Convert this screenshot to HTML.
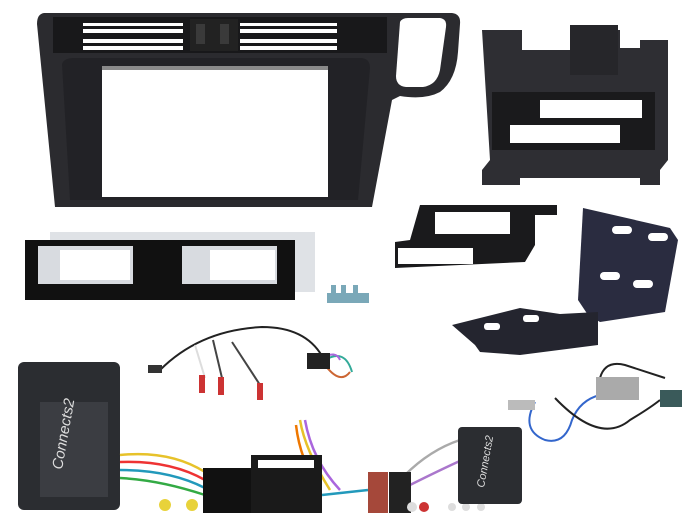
<!DOCTYPE html>
<html><head><meta charset="utf-8"><style>
html,body{margin:0;padding:0;background:#fff;width:700px;height:525px;overflow:hidden}
svg{display:block}
</style></head><body>
<svg width="700" height="525" viewBox="0 0 700 525" xmlns="http://www.w3.org/2000/svg">
<rect width="700" height="525" fill="#fff"/>
<!-- Main fascia -->
<path d="M44,13 L452,13 Q461,14 460,24 L458,52 Q456,80 440,92 Q425,100 400,96 L392,100 L372,207 L55,207 L37,24 Q37,14 44,13 Z" fill="#2b2b2f"/>
<path d="M400,22 Q402,18 408,18 L440,18 Q447,19 446,27 L440,70 Q437,85 423,87 L406,87 Q396,86 396,76 Z" fill="#fff"/>
<path d="M62,64 Q64,58 74,58 L360,58 Q370,58 370,68 L358,200 L70,200 Z" fill="#222226"/>
<rect x="102" y="68" width="226" height="129" fill="#fff"/>
<rect x="102" y="66" width="226" height="4" fill="#8a8a8a"/>
<!-- vents -->
<rect x="53" y="17" width="334" height="36" fill="#18181a"/>
<g fill="#fff">
<rect x="83" y="23" width="100" height="3"/><rect x="83" y="29" width="100" height="4"/><rect x="83" y="39" width="100" height="4"/><rect x="83" y="46" width="100" height="4"/>
<rect x="240" y="23" width="97" height="3"/><rect x="240" y="29" width="97" height="4"/><rect x="240" y="39" width="97" height="4"/><rect x="240" y="46" width="97" height="4"/>
</g>
<rect x="190" y="19" width="48" height="32" fill="#222"/>
<rect x="196" y="24" width="9" height="20" fill="#3a3a3a"/><rect x="220" y="24" width="9" height="20" fill="#3a3a3a"/>
<!-- top right bracket -->
<path d="M482,30 L522,30 L522,50 L570,50 L570,30 L620,30 L620,48 L640,48 L640,40 L668,40 L668,160 L660,170 L660,185 L640,185 L640,178 L520,178 L520,185 L482,185 L482,170 L490,160 Z" fill="#2e2e33"/>
<rect x="492" y="92" width="163" height="58" fill="#1a1a1c"/>
<rect x="540" y="100" width="102" height="18" fill="#fff"/>
<rect x="510" y="125" width="110" height="18" fill="#fff"/>
<rect x="570" y="25" width="48" height="50" fill="#26262a"/>
<!-- left bar -->
<rect x="50" y="232" width="265" height="60" fill="#dfe2e6"/>
<rect x="25" y="240" width="270" height="60" fill="#111"/>
<rect x="38" y="246" width="95" height="38" fill="#d8dbe0"/>
<rect x="182" y="246" width="95" height="38" fill="#d8dbe0"/>
<rect x="60" y="250" width="70" height="30" fill="#fff"/>
<rect x="210" y="250" width="65" height="30" fill="#fff"/>
<!-- screws -->
<g fill="#7aa8b8"><rect x="327" y="293" width="42" height="10"/><rect x="331" y="285" width="5" height="10"/><rect x="341" y="285" width="5" height="10"/><rect x="353" y="285" width="5" height="10"/></g>
<!-- middle brackets -->
<path d="M418,212 L420,205 L557,205 L557,215 L535,215 L535,245 L525,262 L395,268 L395,242 L410,240 Z" fill="#1a1a1c"/>
<rect x="435" y="212" width="75" height="22" fill="#fff"/>
<rect x="398" y="248" width="75" height="16" fill="#fff"/>
<!-- right plate -->
<path d="M583,208 L670,228 L678,240 L665,312 L600,322 L588,315 L578,300 Z" fill="#2a2c40"/>
<path d="M452,325 L520,308 L560,314 L598,312 L598,345 L520,355 L480,352 L475,345 Z" fill="#24252f"/>
<g fill="#fff"><rect x="612" y="226" width="20" height="8" rx="4"/><rect x="648" y="233" width="20" height="8" rx="4"/><rect x="600" y="272" width="20" height="8" rx="4"/><rect x="633" y="280" width="20" height="8" rx="4"/><rect x="484" y="323" width="16" height="7" rx="3"/><rect x="523" y="315" width="16" height="7" rx="3"/></g>
<!-- harness cables -->
<g fill="none" stroke-width="2">
<path d="M160,370 Q200,330 262,327 Q305,327 322,356" stroke="#222"/>
<path d="M195,345 L205,378" stroke="#ddd"/><path d="M213,340 L222,378" stroke="#444"/><path d="M232,342 L262,388" stroke="#444"/>
<path d="M325,360 Q345,348 352,372" stroke="#3a9"/><path d="M325,365 Q340,385 350,372" stroke="#c63"/><path d="M322,358 Q336,350 340,360" stroke="#a6d"/>
</g>
<rect x="148" y="365" width="14" height="8" fill="#333"/>
<rect x="307" y="353" width="23" height="16" fill="#222"/>
<g fill="#c33"><rect x="199" y="375" width="6" height="18"/><rect x="218" y="377" width="6" height="18"/><rect x="257" y="383" width="6" height="17"/></g>
<!-- big module -->
<rect x="18" y="362" width="102" height="148" rx="6" fill="#2b2d31"/>
<rect x="40" y="402" width="68" height="95" fill="#3b3d42"/>
<text x="62" y="470" fill="#ddd" font-family="Liberation Sans,sans-serif" font-size="15" font-style="italic" transform="rotate(-80 62 470)">Connects2</text>
<!-- wires -->
<g fill="none" stroke-width="2.5">
<path d="M120,455 Q170,450 205,472" stroke="#e7c22a"/><path d="M120,462 Q170,460 205,480" stroke="#e33"/>
<path d="M120,470 Q170,470 205,488" stroke="#29b"/><path d="M120,478 Q160,480 205,495" stroke="#3a4"/>
<path d="M300,420 Q305,450 330,490" stroke="#e7c22a"/><path d="M305,420 Q312,460 340,490" stroke="#a6d"/>
<path d="M296,425 Q300,460 320,490" stroke="#e70"/><path d="M322,495 L368,490" stroke="#29b"/>
<path d="M405,475 Q430,450 460,440" stroke="#aaa"/><path d="M410,485 Q440,470 462,460" stroke="#a7c"/>
</g>
<circle cx="165" cy="505" r="6" fill="#e8d23a"/><circle cx="192" cy="505" r="6" fill="#e8d23a"/>
<rect x="203" y="468" width="48" height="45" fill="#111"/>
<rect x="251" y="455" width="71" height="58" fill="#1a1a1a"/>
<rect x="258" y="460" width="56" height="8" fill="#fff"/>
<rect x="368" y="472" width="20" height="41" fill="#a5483a"/>
<rect x="389" y="472" width="22" height="41" fill="#222"/>
<g fill="#ddd"><circle cx="412" cy="507" r="5"/><circle cx="452" cy="507" r="4"/><circle cx="466" cy="507" r="4"/><circle cx="481" cy="507" r="4"/></g>
<circle cx="424" cy="507" r="5" fill="#c33"/>
<!-- small module -->
<rect x="458" y="427" width="64" height="77" rx="4" fill="#2b2d31"/>
<text x="484" y="488" fill="#ddd" font-family="Liberation Sans,sans-serif" font-size="11" font-style="italic" transform="rotate(-80 484 488)">Connects2</text>
<!-- antenna -->
<g fill="none" stroke-width="2">
<path d="M535,402 Q520,430 545,440 Q565,445 572,420 Q580,400 600,395" stroke="#36c"/>
<path d="M555,398 Q600,445 630,420 Q650,408 660,400" stroke="#222"/>
<path d="M600,378 Q605,360 625,365 L665,378" stroke="#222"/>
</g>
<rect x="508" y="400" width="27" height="10" fill="#bbb"/>
<rect x="596" y="377" width="43" height="23" fill="#aaa"/>
<rect x="660" y="390" width="22" height="17" fill="#3a5a5a"/>
</svg>
</body></html>
